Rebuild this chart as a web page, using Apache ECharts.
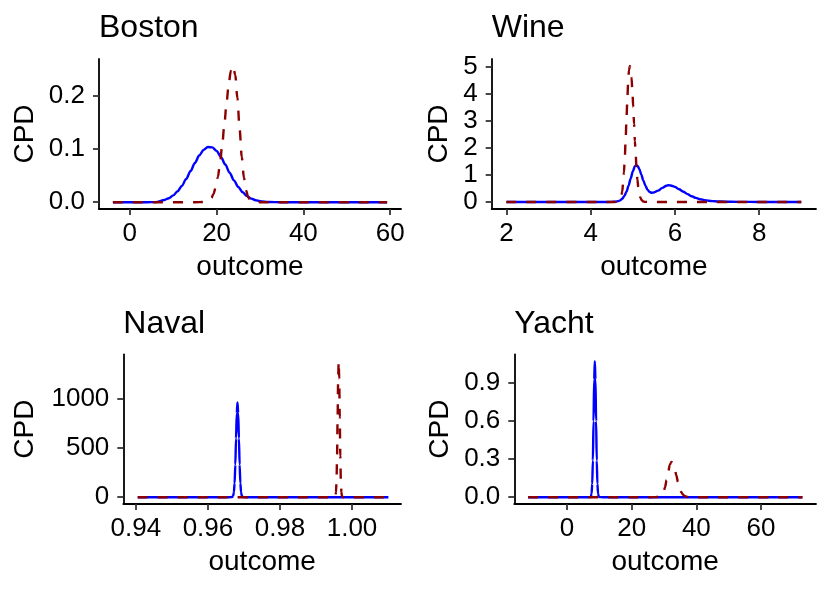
<!DOCTYPE html>
<html>
<head>
<meta charset="utf-8">
<title>CPD</title>
<script src="https://cdn.jsdelivr.net/npm/echarts@6/dist/echarts.min.js"></script>
<style>
html, body { margin: 0; padding: 0; background: #fff; }
#main { width: 830px; height: 590px; }
</style>
</head>
<body>
<div id="main"></div>
<script>
// panel titles
var titles = ['Boston', 'Wine', 'Naval', 'Yacht'];

// tick values per panel
var bostonXTicks = [0, 20, 40, 60];
var bostonYTicks = [0, 0.1, 0.2];
var wineXTicks = [2, 4, 6, 8];
var wineYTicks = [0, 1, 2, 3, 4, 5];
var navalXTicks = [0.94, 0.96, 0.98, 1.00];
var navalYTicks = [0, 500, 1000];
var yachtXTicks = [0, 20, 40, 60];
var yachtYTicks = [0, 0.3, 0.6, 0.9];

// Boston
var bostonBlueX = [-3.9, 4, 6, 8, 9, 10, 11, 12, 13, 14, 15, 16, 17, 18, 19, 20, 21, 22, 23, 24, 25, 26, 27, 28, 29, 30, 32, 35, 59.3];
var bostonBlueY = [0, 0, 0.0002, 0.0042, 0.0075, 0.0127, 0.0204, 0.0307, 0.0437, 0.0584, 0.0737, 0.0876, 0.0981, 0.1035, 0.1029, 0.0964, 0.0851, 0.0707, 0.0554, 0.0409, 0.0285, 0.0186, 0.0115, 0.0067, 0.0037, 0.0019, 0.0004, 0, 0];
var bostonRedX = [-3.9, 15, 16.8, 17.8, 18.8, 19.3, 19.8, 20.3, 20.8, 21.3, 21.8, 22.3, 22.8, 23.3, 23.8, 24.3, 24.8, 25.3, 25.8, 26.3, 26.8, 27.3, 27.8, 28.8, 30, 59.3];
var bostonRedY = [0, 0, 0.0003, 0.0017, 0.008, 0.0155, 0.028, 0.047, 0.074, 0.108, 0.147, 0.187, 0.223, 0.247, 0.256, 0.239, 0.195, 0.138, 0.085, 0.046, 0.022, 0.0089, 0.0032, 0.0003, 0, 0];

// Wine
var wineBlueX = [2.0, 4.3, 4.5, 4.6, 4.65, 4.7, 4.75, 4.8, 4.85, 4.9, 4.95, 5.0, 5.05, 5.08, 5.12, 5.16, 5.2, 5.25, 5.3, 5.35, 5.4, 5.45, 5.5, 5.6, 5.7, 5.8, 5.85, 5.9, 6.0, 6.1, 6.2, 6.3, 6.4, 6.5, 6.6, 6.7, 6.8, 6.9, 7.0, 7.2, 7.5, 8.0, 9.0];
var wineBlueY = [0, 0, 0.003, 0.012, 0.03, 0.06, 0.12, 0.22, 0.38, 0.6, 0.87, 1.13, 1.32, 1.36, 1.32, 1.2, 1.02, 0.8, 0.6, 0.45, 0.37, 0.34, 0.35, 0.42, 0.52, 0.6, 0.62, 0.61, 0.56, 0.47, 0.38, 0.29, 0.21, 0.15, 0.10, 0.068, 0.045, 0.03, 0.02, 0.01, 0.004, 0.001, 0];
var wineRedX = [2.0, 4.5, 4.61, 4.65, 4.69, 4.73, 4.75, 4.77, 4.79, 4.81, 4.83, 4.85, 4.87, 4.89, 4.91, 4.93, 4.95, 4.97, 4.99, 5.01, 5.03, 5.05, 5.07, 5.09, 5.11, 5.13, 5.15, 5.18, 5.21, 5.25, 5.29, 5.4, 9.0];
var wineRedY = [0, 0, 0.002, 0.011, 0.055, 0.22, 0.40, 0.68, 1.09, 1.63, 2.30, 3.05, 3.80, 4.44, 4.88, 5.03, 4.92, 4.60, 4.12, 3.53, 2.89, 2.26, 1.70, 1.22, 0.83, 0.55, 0.34, 0.16, 0.065, 0.017, 0.004, 0, 0];

// Naval
var navalBlueX = [0.9405, 0.966, 0.9667, 0.967, 0.9672, 0.9674, 0.9676, 0.9678, 0.968, 0.9682, 0.9684, 0.9686, 0.9688, 0.969, 0.9692, 0.9694, 0.9697, 0.9705, 1.0101];
var navalBlueY = [0, 0, 1.2, 13, 49.5, 144, 331, 600, 857, 966, 857, 600, 331, 144, 49.5, 13, 1.2, 0, 0];
var navalRedX = [0.9405, 0.9948, 0.9951, 0.9954, 0.99555, 0.9957, 0.99585, 0.996, 0.99615, 0.9963, 0.99645, 0.9966, 0.99675, 0.9969, 0.99705, 0.9972, 0.9975, 0.9978, 1.0101];
var navalRedY = [0, 0, 0.2, 12, 51, 168, 422, 817, 1214, 1385, 1214, 817, 422, 168, 51, 12, 0.2, 0, 0];

// Yacht
var yachtBlueX = [-12, 6.5, 7.1, 7.4, 7.6, 7.8, 8.0, 8.2, 8.4, 8.6, 8.8, 9.0, 9.2, 9.4, 9.6, 9.8, 10.1, 11, 72.8];
var yachtBlueY = [0, 0, 0.0003, 0.0057, 0.028, 0.105, 0.288, 0.597, 0.923, 1.067, 0.923, 0.597, 0.288, 0.105, 0.028, 0.0057, 0.0003, 0, 0];
var yachtRedX = [-12, 26, 27.3, 28.3, 28.8, 29.3, 29.8, 30.3, 30.8, 31.3, 31.8, 32.3, 32.8, 33.3, 33.8, 34.3, 34.8, 35.3, 35.8, 36.3, 37.3, 38.5, 72.8];
var yachtRedY = [0, 0, 0.0005, 0.0017, 0.0055, 0.015, 0.037, 0.077, 0.134, 0.200, 0.255, 0.276, 0.262, 0.224, 0.173, 0.120, 0.075, 0.042, 0.022, 0.010, 0.0015, 0, 0];

function pairs(xs, ys) {
	var out = [];
	for (var i = 0; i < xs.length; i++) out.push([xs[i], ys[i]]);
	return out;
}

var font = "'Liberation Sans', Arial, Helvetica, sans-serif";

// layout of the four panels (pixels) and axis ranges
var panels = [
	{ left: 99, top: 59, width: 302, height: 150, xMin: -7.1, xMax: 62.5, yMin: -0.0128, yMax: 0.2688,
	  xTicks: bostonXTicks, yTicks: bostonYTicks, xDec: 0, yDec: 1, yNameGap: 60,
	  blue: pairs(bostonBlueX, bostonBlueY), red: pairs(bostonRedX, bostonRedY) },
	{ left: 491.7, top: 59, width: 324.3, height: 150, xMin: 1.65, xMax: 9.35, yMin: -0.26, yMax: 5.29,
	  xTicks: wineXTicks, yTicks: wineYTicks, xDec: 0, yDec: 0, yNameGap: 38,
	  blue: pairs(wineBlueX, wineBlueY), red: pairs(wineRedX, wineRedY) },
	{ left: 123.3, top: 354.3, width: 277.7, height: 149.7, xMin: 0.9365, xMax: 1.0136, yMin: -69.4, yMax: 1458,
	  xTicks: navalXTicks, yTicks: navalYTicks, xDec: 2, yDec: 0, yNameGap: 84,
	  blue: pairs(navalBlueX, navalBlueY), red: pairs(navalRedX, navalRedY) },
	{ left: 514.3, top: 354.3, width: 301.7, height: 149.7, xMin: -16.3, xMax: 77, yMin: -0.0534, yMax: 1.121,
	  xTicks: yachtXTicks, yTicks: yachtYTicks, xDec: 0, yDec: 1, yNameGap: 60,
	  blue: pairs(yachtBlueX, yachtBlueY), red: pairs(yachtRedX, yachtRedY) }
];

var grid = [], xAxis = [], yAxis = [], series = [], title = [];

panels.forEach(function (p, i) {
	grid.push({ left: p.left, top: p.top, width: p.width, height: p.height });
	title.push({
		text: titles[i], left: p.left, top: p.top - 46.5, padding: 0,
		textStyle: { fontSize: 32, fontWeight: 'normal', color: '#000', fontFamily: font }
	});
	xAxis.push({
		gridIndex: i, type: 'value', min: p.xMin, max: p.xMax,
		name: 'outcome', nameLocation: 'middle', nameGap: 44,
		nameTextStyle: { fontSize: 28, color: '#000', fontFamily: font },
		axisLine: { show: true, onZero: false, lineStyle: { color: '#000', width: 1.8 } },
		axisTick: { show: true, length: 6, customValues: p.xTicks, lineStyle: { color: '#333', width: 1.8 } },
		axisLabel: {
			customValues: p.xTicks, margin: 12, fontSize: 26, color: '#000', fontFamily: font,
			formatter: (function (d) { return function (v) { return Number(v).toFixed(d); }; })(p.xDec)
		},
		splitLine: { show: false }
	});
	yAxis.push({
		gridIndex: i, type: 'value', min: p.yMin, max: p.yMax,
		name: 'CPD', nameLocation: 'middle', nameGap: p.yNameGap, nameRotate: 90,
		nameTextStyle: { fontSize: 28, color: '#000', fontFamily: font },
		axisLine: { show: true, onZero: false, lineStyle: { color: '#000', width: 1.8 } },
		axisTick: { show: true, length: 6, customValues: p.yTicks, lineStyle: { color: '#333', width: 1.8 } },
		axisLabel: {
			customValues: p.yTicks, margin: 14, fontSize: 26, color: '#000', fontFamily: font,
			formatter: (function (d) { return function (v) { return Number(v).toFixed(d); }; })(p.yDec)
		},
		splitLine: { show: false }
	});
	series.push({
		name: titles[i] + ' blue', type: 'line', xAxisIndex: i, yAxisIndex: i,
		data: p.blue, showSymbol: false, smooth: 0.3, smoothMonotone: 'x',
		lineStyle: { color: '#0000ff', width: 2.4 }, silent: true
	});
	series.push({
		name: titles[i] + ' red', type: 'line', xAxisIndex: i, yAxisIndex: i,
		data: p.red, showSymbol: false, smooth: 0.3, smoothMonotone: 'x',
		lineStyle: { color: '#8b0000', width: 2.4, type: [10, 10] }, silent: true
	});
});

var myChart = echarts.init(document.getElementById('main'));
var option = {
	backgroundColor: '#fff',
	animation: false,
	title: title,
	grid: grid,
	xAxis: xAxis,
	yAxis: yAxis,
	series: series
};
myChart.setOption(option);
</script>
</body>
</html>
